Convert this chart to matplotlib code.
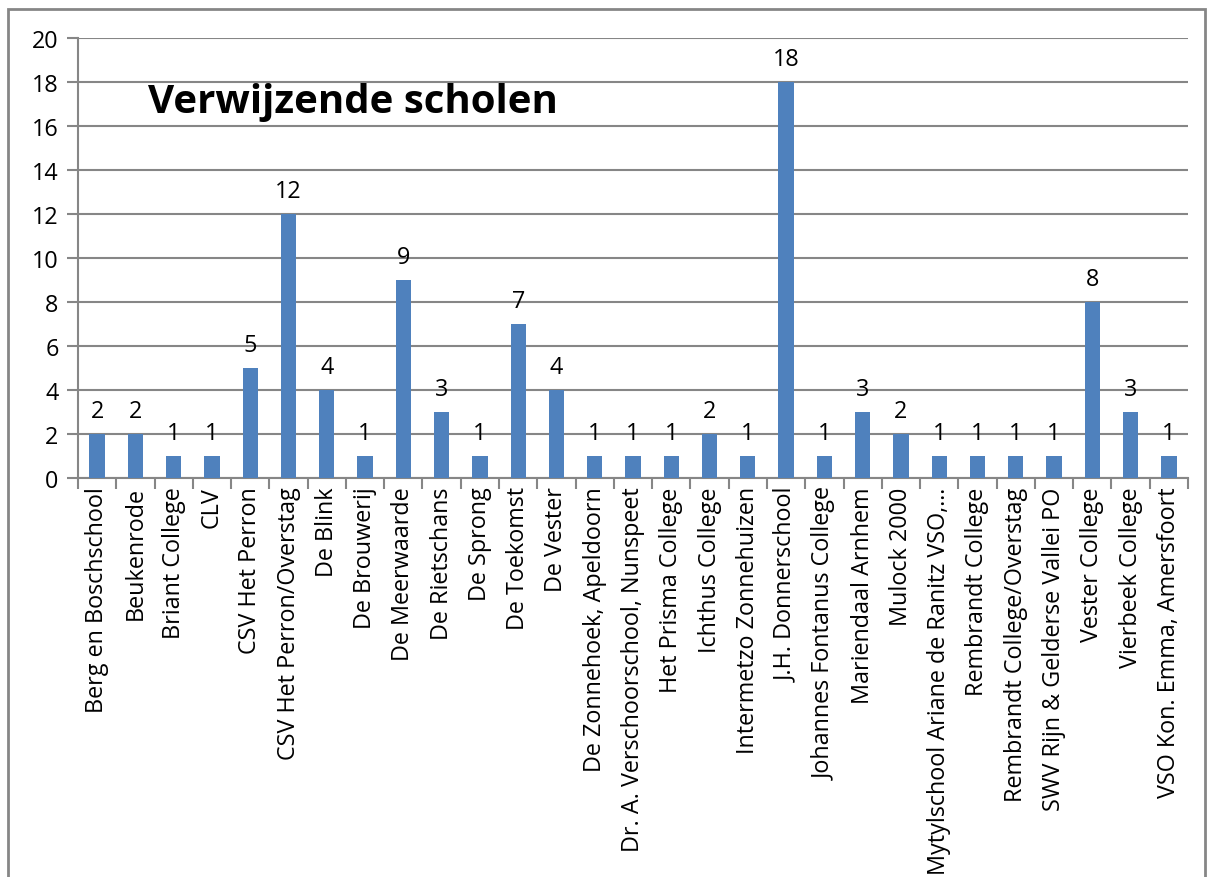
import matplotlib.pyplot as plt
from matplotlib.patches import Rectangle
import numpy as np

plt.rcParams['font.family'] = ['Open Sans', 'DejaVu Sans']

# data
scholen = ["Berg en Boschschool", "Beukenrode", "Briant College", "CLV",
           "CSV Het Perron", "CSV Het Perron/Overstag", "De Blink", "De Brouwerij",
           "De Meerwaarde", "De Rietschans", "De Sprong", "De Toekomst", "De Vester",
           "De Zonnehoek, Apeldoorn", "Dr. A. Verschoorschool, Nunspeet",
           "Het Prisma College", "Ichthus College", "Intermetzo Zonnehuizen",
           "J.H. Donnerschool", "Johannes Fontanus College", "Mariendaal Arnhem",
           "Mulock 2000", "Mytylschool Ariane de Ranitz VSO,\u2026", "Rembrandt College",
           "Rembrandt College/Overstag", "SWV Rijn & Gelderse Vallei PO",
           "Vester College", "Vierbeek College", "VSO Kon. Emma, Amersfoort"]
aantal = [2, 2, 1, 1, 5, 12, 4, 1, 9, 3, 1, 7, 4, 1, 1, 1, 2, 1, 18, 1, 3, 2,
          1, 1, 1, 1, 8, 3, 1]
yticks = [0, 2, 4, 6, 8, 10, 12, 14, 16, 18, 20]

W, H = 1214, 878
fig = plt.figure(figsize=(W / 100, H / 100), dpi=100)
ax = fig.add_axes([78 / W, 1 - 479 / H, (1188 - 78) / W, (479 - 39) / H])

grid_c = '#868686'
fs = 16.8
x = np.arange(len(scholen))
ax.bar(x, aantal, width=0.4, color='#4F81BD', zorder=3)
for xi, v in zip(x, aantal):
    ax.text(xi, v + 0.5, str(v), ha='center', va='bottom', fontsize=fs, zorder=4)

ax.set_xlim(-0.5, len(scholen) - 0.5)
ax.set_ylim(0, 20)
ax.set_yticks(yticks)
ax.tick_params(axis='y', labelsize=fs, length=8, width=1.5, color=grid_c, pad=6)
ax.yaxis.grid(True, color=grid_c, linewidth=1.5, zorder=0)

ax.set_xticks(x)
ax.set_xticklabels(scholen, rotation=90, fontsize=fs, va='top', ha='center')
ax.tick_params(axis='x', which='major', length=0, pad=6)
ax.set_xticks(np.arange(-0.5, len(scholen)), minor=True)
ax.tick_params(axis='x', which='minor', length=8, width=1.5, color=grid_c)

for s in ['top', 'right']:
    ax.spines[s].set_visible(False)
for s in ['left', 'bottom']:
    ax.spines[s].set_color(grid_c)
    ax.spines[s].set_linewidth(1.5)

ax.text(148 / W, 1 - 103 / H, "Verwijzende scholen", transform=fig.transFigure,
        fontsize=29, fontweight='bold', ha='left', va='center')

# chart border
fig.patches.append(Rectangle((8 / W, -0.1), (1205 - 8) / W, 1.1 - 10 / H,
                             transform=fig.transFigure, fill=False,
                             edgecolor=grid_c, linewidth=2))

fig.savefig('out.png', dpi=100)
